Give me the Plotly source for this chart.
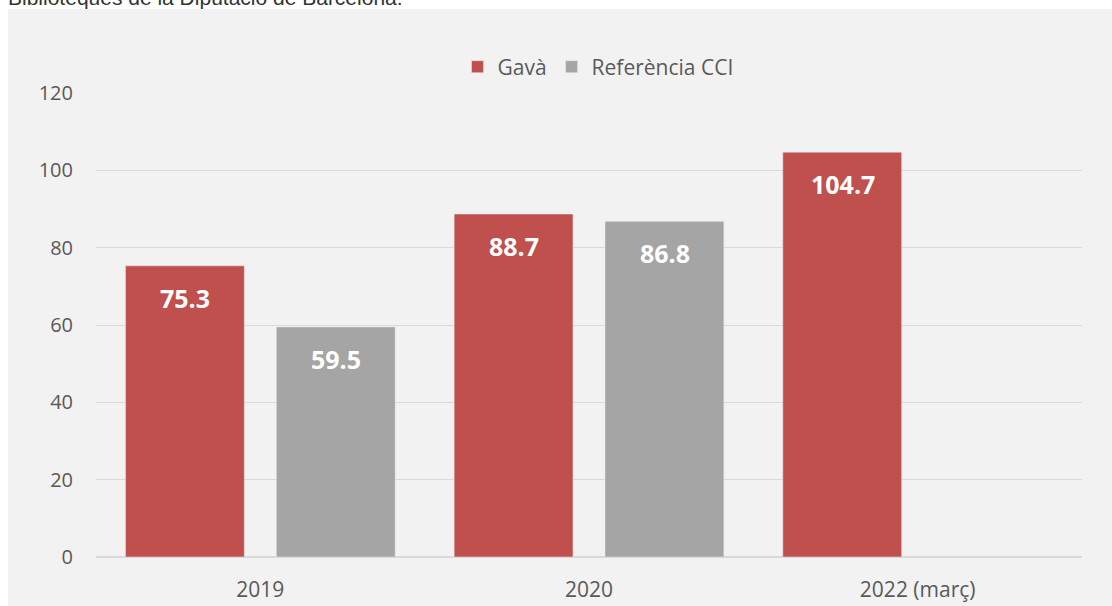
import plotly.graph_objects as go

categories = ["2019", "2020", "2022 (març)"]
gava = [75.3, 88.7, 104.7]
cci = [59.5, 86.8, None]
series_names = ["Gavà", "Referència CCI"]
source_text = "Biblioteques de la Diputació de Barcelona."

RED = "#C0504D"
GRAY = "#A5A5A5"
BG = "#F2F2F2"
TXT = "#595959"
FONT = "Open Sans"

fig = go.Figure()
fig.add_trace(go.Bar(x=categories, y=gava, name=series_names[0], marker_color=RED))
fig.add_trace(go.Bar(x=categories, y=cci, name=series_names[1], marker_color=GRAY))

W, H = 1112, 606
ml, mr, mt, mb = 96, 30, 93, 49
pw, ph = W - ml - mr, H - mt - mb

def px_to_paper_x(px):
    return (px - ml) / pw

def px_to_paper_y(py):
    return (H - mb - py) / ph

# background panel
fig.add_shape(type="rect", xref="paper", yref="paper",
              x0=px_to_paper_x(8), x1=px_to_paper_x(1116),
              y0=px_to_paper_y(610), y1=px_to_paper_y(9),
              fillcolor=BG, line_width=0, layer="below")

# value labels (x given as category index)
for tr_i, vals in enumerate([gava, cci]):
    for ci, v in enumerate(vals):
        if v is None:
            continue
        fig.add_annotation(x=ci, y=v, xref="x", yref="y", text=f"<b>{v:.1f}</b>",
                           showarrow=False, yanchor="middle", yshift=-32,
                           xshift=(-75 if tr_i == 0 else 76),
                           font=dict(family=FONT, size=25, color="white"))

fig.add_annotation(xref="paper", yref="paper", x=px_to_paper_x(6), y=px_to_paper_y(-3),
                   xanchor="left", yanchor="middle", text=source_text, showarrow=False,
                   font=dict(family="Liberation Sans, Arial", size=21, color="#333333"))

fig.update_layout(
    width=W, height=H,
    margin=dict(l=ml, r=mr, t=mt, b=mb, autoexpand=False),
    paper_bgcolor="white", plot_bgcolor=BG,
    barmode="group", bargap=0.082, bargroupgap=0.212,
    font=dict(family=FONT, size=20, color=TXT),
    showlegend=True,
    legend=dict(orientation="h", x=px_to_paper_x(598), xanchor="center",
                y=px_to_paper_y(67), yanchor="middle",
                font=dict(family=FONT, size=21, color=TXT),
                bgcolor="rgba(0,0,0,0)", itemclick=False),
    xaxis=dict(type="category", range=[-0.5, len(categories) - 0.5], autorange=False,
               automargin=False,
               showgrid=False, showline=False, ticklabelstandoff=18,
               tickfont=dict(family=FONT, size=21, color=TXT)),
    yaxis=dict(range=[0, 120], autorange=False, dtick=20, showgrid=True, automargin=False,
               gridcolor="#D9D9D9", gridwidth=1,
               zeroline=True, zerolinecolor="#D9D9D9", zerolinewidth=2,
               showline=False, ticklabelstandoff=22,
               tickfont=dict(family=FONT, size=20, color=TXT)),
)

fig.write_html("out.html", config={"displayModeBar": False},
               post_script="document.body.style.margin='0';")
